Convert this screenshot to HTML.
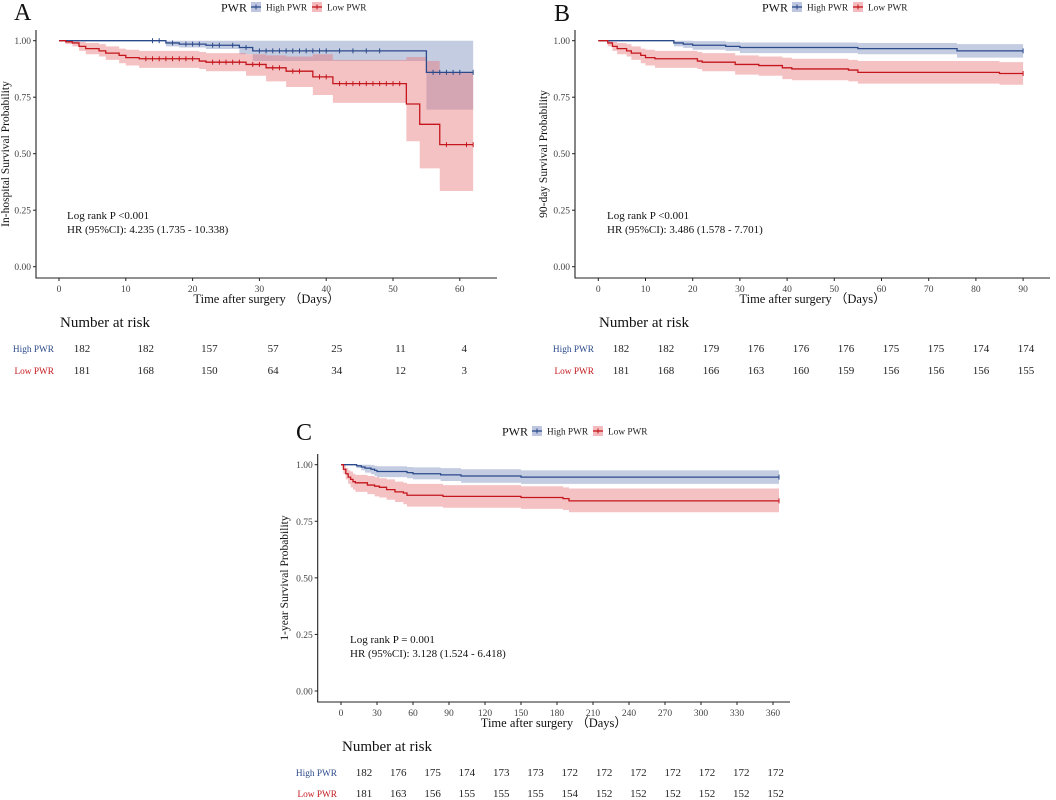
<!DOCTYPE html>
<html><head><meta charset="utf-8"><style>
html,body{margin:0;padding:0;background:#fff;}
svg{display:block;font-family:"Liberation Serif",serif;}
</style></head><body>
<svg id="fig" width="1056" height="800" viewBox="0 0 1056 800"></svg>
<script>
// ---- Panel A data ----
const aHighT=[0,16,18,22,27,29,55];
const aHighS=[1,0.99,0.985,0.98,0.97,0.955,0.86];
const aHighL=[1,0.975,0.97,0.963,0.94,0.91,0.695];
const aHighU=[1,1,1,1,1,1,1];
const aLowT=[0,1,2,3,4,6,7,9,10,12,21,22,28,31,34,38,41,52,54,55,57];
const aLowS=[1,0.995,0.99,0.975,0.965,0.955,0.945,0.935,0.925,0.92,0.91,0.905,0.895,0.88,0.865,0.84,0.81,0.72,0.63,0.63,0.54];
const aLowL=[1,0.985,0.975,0.955,0.94,0.93,0.915,0.9,0.89,0.88,0.875,0.865,0.845,0.82,0.795,0.76,0.725,0.555,0.435,0.435,0.335];
const aLowU=[1,1,1,0.995,0.99,0.985,0.975,0.965,0.96,0.955,0.95,0.945,0.94,0.935,0.93,0.94,0.915,0.928,0.928,0.91,0.86];
const aHighCens=[14,15,17,19,20,21,23,24,26,28,30,31,32,33,34,35,36,37,38,39,40,42,44,46,48,56,57,58,59,60,62];
const aLowCens=[13,14,15,16,17,18,19,20,23,24,25,26,27,29,30,32,33,35,36,39,40,42,43,44,45,46,47,48,49,50,51,58,61,62];
const aTicks=[0,10,20,30,40,50,60];
const aRiskHigh=[182,182,157,57,25,11,4];
const aRiskLow=[181,168,150,64,34,12,3];
// ---- Panel B data ----
const bHighT=[0,16,18,20,27,30,55,76];
const bHighS=[1,0.99,0.985,0.98,0.975,0.97,0.965,0.955];
const bHighL=[1,0.975,0.968,0.96,0.955,0.945,0.94,0.925];
const bHighU=[1,1,1,0.998,0.995,0.992,0.99,0.985];
const bLowT=[0,2,3,4,6,7,9,10,12,21,22,29,34,39,41,53,55,85];
const bLowS=[1,0.99,0.975,0.965,0.955,0.945,0.935,0.925,0.92,0.91,0.905,0.895,0.89,0.88,0.875,0.87,0.86,0.855];
const bLowL=[1,0.975,0.955,0.94,0.93,0.915,0.9,0.89,0.88,0.875,0.865,0.85,0.845,0.83,0.825,0.82,0.81,0.805];
const bLowU=[1,1,0.995,0.99,0.985,0.975,0.965,0.96,0.955,0.95,0.945,0.935,0.93,0.925,0.92,0.915,0.91,0.905];
const bHighCens=[90];
const bLowCens=[90];
const bTicks=[0,10,20,30,40,50,60,70,80,90];
const bRiskHigh=[182,182,179,176,176,176,175,175,174,174];
const bRiskLow=[181,168,166,163,160,159,156,156,156,155];
// ---- Panel C data ----
const cHighT=[0,13,17,20,25,28,30,55,60,83,100,150];
const cHighS=[1,0.995,0.99,0.985,0.98,0.975,0.97,0.965,0.96,0.955,0.95,0.945];
const cHighL=[1,0.985,0.975,0.965,0.958,0.95,0.945,0.94,0.935,0.928,0.92,0.915];
const cHighU=[1,1,1,1,0.998,0.995,0.993,0.99,0.988,0.985,0.98,0.975];
const cLowT=[0,2,4,6,8,10,12,22,28,32,38,45,52,55,85,150,185,190];
const cLowS=[1,0.98,0.96,0.945,0.935,0.925,0.92,0.91,0.905,0.9,0.89,0.88,0.875,0.865,0.86,0.855,0.85,0.84];
const cLowL=[1,0.96,0.935,0.915,0.9,0.89,0.88,0.87,0.86,0.855,0.845,0.835,0.825,0.815,0.81,0.805,0.8,0.79];
const cLowU=[1,1,0.985,0.975,0.97,0.96,0.955,0.95,0.945,0.94,0.935,0.925,0.92,0.915,0.91,0.905,0.9,0.895];
const cHighCens=[365];
const cLowCens=[365];
const cTicks=[0,30,60,90,120,150,180,210,240,270,300,330,360];
const cRiskHigh=[182,176,175,174,173,173,172,172,172,172,172,172,172];
const cRiskLow=[181,163,156,155,155,155,154,152,152,152,152,152,152];
const yTicks=[0,0.25,0.5,0.75,1];

const NS='http://www.w3.org/2000/svg';
const svg=document.getElementById('fig');
function mk(tag,attrs,parent,text){const e=document.createElementNS(NS,tag);for(const k in attrs)e.setAttribute(k,attrs[k]);if(text!==undefined)e.textContent=text;(parent||svg).appendChild(e);return e;}
const BLUE='#2B4A8B',RED='#C4161C';

function panel(cfg){
  const g=mk('g',{});
  
  
  const X=t=>cfg.x0+t*cfg.sx;
  const Y=s=>cfg.yBot-(cfg.yBot-cfg.yTop)*s;
  function band(T,L,U,color,name){
    let d='M'+X(T[0])+','+Y(U[0]);
    for(let i=1;i<T.length;i++){d+=' H'+X(T[i])+' V'+Y(U[i]);}
    d+=' H'+X(cfg.xmax)+' V'+Y(L[L.length-1]);
    for(let i=T.length-1;i>0;i--){d+=' H'+X(T[i])+' V'+Y(L[i-1]);}
    d+=' H'+X(T[0])+' Z';
    const p=mk('path',{d:d,fill:color,'fill-opacity':0.45,stroke:'none'},g);
    
    
  }
  function curve(T,S,color,name){
    let d='M'+X(T[0])+','+Y(S[0]);
    for(let i=1;i<T.length;i++){d+=' H'+X(T[i])+' V'+Y(S[i]);}
    d+=' H'+X(cfg.xmax);
    const p=mk('path',{d:d,fill:'none',stroke:color,'stroke-width':1.3},g);
    
    
  }
  function sAt(T,S,t){let s=S[0];for(let i=0;i<T.length;i++)if(T[i]<=t)s=S[i];return s;}
  function cens(T,S,C,color,name){
    C.forEach(t=>{const y=Y(sAt(T,S,t));
      const l=mk('line',{x1:X(t),x2:X(t),y1:y-2.5,y2:y+2.5,stroke:color,'stroke-width':1},g);
      
      });
  }
  band(cfg.hT,cfg.hL,cfg.hU,'#7D8FBF','high-pwr-ci');
  band(cfg.lT,cfg.lL,cfg.lU,'#E8787C','low-pwr-ci');
  curve(cfg.hT,cfg.hS,BLUE,'high-pwr-curve');
  curve(cfg.lT,cfg.lS,RED,'low-pwr-curve');
  cens(cfg.hT,cfg.hS,cfg.hC,BLUE,'high-pwr-censor');
  cens(cfg.lT,cfg.lS,cfg.lC,RED,'low-pwr-censor');
  const ax=mk('path',{d:'M'+cfg.axL+','+cfg.axT+' V'+cfg.axB+' H'+cfg.axR,fill:'none',stroke:'#222','stroke-width':1.1},g);
  
  
  yTicks.forEach(v=>{const y=Y(v);
    mk('line',{x1:cfg.axL-3,x2:cfg.axL,y1:y,y2:y,stroke:'#222'},g);
    const t=mk('text',{x:cfg.axL-5,y:y+3.5,'text-anchor':'end','font-size':9.5,fill:'#444'},g,v.toFixed(2));
    
    });
  cfg.ticks.forEach(v=>{const x=X(v);
    mk('line',{x1:x,x2:x,y1:cfg.axB,y2:cfg.axB+3,stroke:'#222'},g);
    const t=mk('text',{x:x,y:cfg.axB+14,'text-anchor':'middle','font-size':9.5,fill:'#444'},g,String(v));
    
    });
  const xt=mk('text',{x:(cfg.axL+cfg.axR)/2,y:cfg.axB+25,'text-anchor':'middle','font-size':12.5,fill:'#111'},g,'Time after surgery （Days）');
  
  
  const ym=(cfg.axT+cfg.axB)/2;
  const yt=mk('text',{x:cfg.ytx,y:ym,'text-anchor':'middle','font-size':11.5,fill:'#111',transform:'rotate(-90 '+cfg.ytx+' '+ym+')'},g,cfg.ytitle);
  
  
  const a1=mk('text',{x:cfg.annX,y:cfg.annY,'font-size':11,fill:'#111'},g,cfg.ann1);
  
  
  const a2=mk('text',{x:cfg.annX,y:cfg.annY+14,'font-size':11,fill:'#111'},g,cfg.ann2);
  
  
  const lt=mk('text',{x:cfg.letX,y:cfg.letY,'font-size':24,fill:'#111'},g,cfg.id);
  
  
  const lg=mk('g',{},g);
  
  
  const ly=cfg.legY;
  mk('text',{x:cfg.legX,y:ly+4.5,'font-size':12,fill:'#111'},lg,'PWR');
  [[BLUE,'#7D8FBF','High PWR',cfg.legX+30],[RED,'#E8787C','Low PWR',cfg.legX+91]].forEach(e=>{
    const sw=mk('g',{},lg);
    
    
    mk('rect',{x:e[3],y:ly-5,width:10,height:10,fill:e[1],'fill-opacity':0.5},sw);
    mk('line',{x1:e[3],x2:e[3]+10,y1:ly,y2:ly,stroke:e[0],'stroke-width':1.3},sw);
    mk('line',{x1:e[3]+5,x2:e[3]+5,y1:ly-2.5,y2:ly+2.5,stroke:e[0]},sw);
    mk('text',{x:e[3]+15,y:ly+3.5,'font-size':9.3,fill:'#222'},sw,e[2]);
  });
  const nr=mk('text',{x:cfg.nrX,y:cfg.nrY,'font-size':15,fill:'#111'},g,'Number at risk');
  
  
  [[cfg.rH,'High PWR',BLUE,cfg.r1Y],[cfg.rL,'Low PWR',RED,cfg.r2Y]].forEach(r=>{
    const lab=mk('text',{x:cfg.rlX,y:r[3],'text-anchor':'end','font-size':9.3,fill:r[2]},g,r[1]);
    
    
    r[0].forEach((v,i)=>{
      const t=mk('text',{x:cfg.rx0+i*cfg.rdx,y:r[3],'text-anchor':'middle','font-size':11,fill:'#222'},g,String(v));
      
      
    });
  });
}

panel({id:'A',x0:59,sx:6.68,yTop:40.7,yBot:266.7,xmax:62,axL:36,axT:30,axB:278,axR:497,ticks:aTicks,
  hT:aHighT,hS:aHighS,hL:aHighL,hU:aHighU,lT:aLowT,lS:aLowS,lL:aLowL,lU:aLowU,hC:aHighCens,lC:aLowCens,
  ytx:9,ytitle:'In-hospital Survival Probability',annX:67,annY:219,ann1:'Log rank P <0.001',ann2:'HR (95%CI): 4.235 (1.735 - 10.338)',
  letX:14,letY:20,legX:221,legY:7,nrX:60,nrY:327,r1Y:352,r2Y:374,rlX:54,rx0:82,rdx:63.7,rH:aRiskHigh,rL:aRiskLow});
panel({id:'B',x0:598.3,sx:4.72,yTop:40.7,yBot:266.7,xmax:90,axL:575,axT:30,axB:278,axR:1050,ticks:bTicks,
  hT:bHighT,hS:bHighS,hL:bHighL,hU:bHighU,lT:bLowT,lS:bLowS,lL:bLowL,lU:bLowU,hC:bHighCens,lC:bLowCens,
  ytx:547,ytitle:'90-day Survival Probability',annX:607,annY:219,ann1:'Log rank P <0.001',ann2:'HR (95%CI): 3.486 (1.578 - 7.701)',
  letX:554,letY:21,legX:762,legY:7,nrX:599,nrY:327,r1Y:352,r2Y:374,rlX:594,rx0:621,rdx:45,rH:bRiskHigh,rL:bRiskLow});
panel({id:'C',x0:341,sx:1.2,yTop:464.7,yBot:691,xmax:365,axL:317.7,axT:454,axB:702,axR:790,ticks:cTicks,
  hT:cHighT,hS:cHighS,hL:cHighL,hU:cHighU,lT:cLowT,lS:cLowS,lL:cLowL,lU:cLowU,hC:cHighCens,lC:cLowCens,
  ytx:288,ytitle:'1-year Survival Probability',annX:350,annY:643,ann1:'Log rank P = 0.001',ann2:'HR (95%CI): 3.128 (1.524 - 6.418)',
  letX:296,letY:440,legX:502,legY:431,nrX:342,nrY:751,r1Y:776,r2Y:797,rlX:337,rx0:364,rdx:34.3,rH:cRiskHigh,rL:cRiskLow});
</script>
</body></html>
